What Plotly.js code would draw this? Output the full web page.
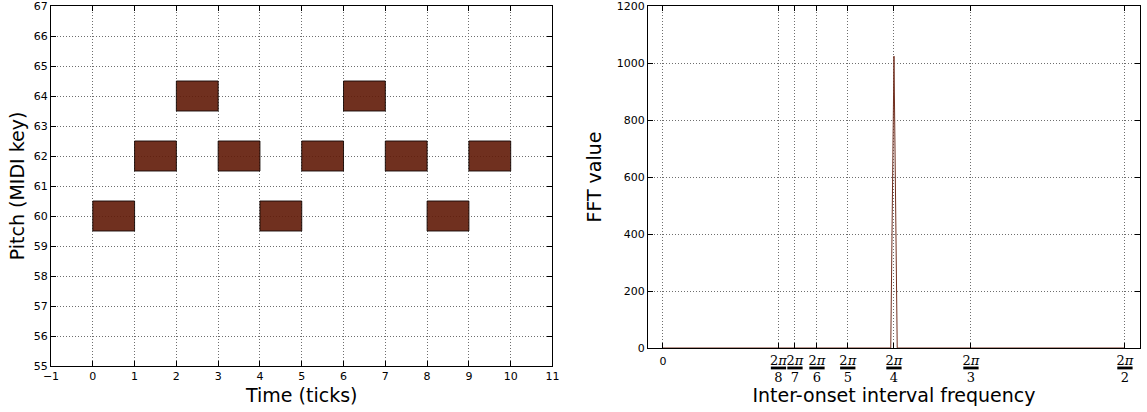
<!DOCTYPE html>
<html>
<head>
<meta charset="utf-8">
<script src="https://cdn.plot.ly/plotly-3.0.1.min.js"></script>
<style>
  html, body { margin: 0; padding: 0; background: #fff; }
  #chart { width: 1147px; height: 412px; }
</style>
</head>
<body>
<div id="chart"></div>
<script>
// Melody: onset and duration in ticks, pitch as MIDI key
const noteOnsets    = [0, 1, 2, 3, 4, 5, 6, 7, 8, 9];
const noteDurations = [1, 1, 1, 1, 1, 1, 1, 1, 1, 1];
const notePitches   = [60, 62, 64, 62, 60, 62, 64, 62, 60, 62];

// FFT of the inter-onset intervals
const fftFrequencies = [0, 1.549, 1.5708, 1.593, 3.1416];
const fftValues      = [0, 0, 1024, 0, 0];

// Frequency ticks are 2π / n
const periodDivisors = [8, 7, 6, 5, 4, 3, 2];

const timeTicks  = [-1, 0, 1, 2, 3, 4, 5, 6, 7, 8, 9, 10, 11];
const pitchTicks = [55, 56, 57, 58, 59, 60, 61, 62, 63, 64, 65, 66, 67];
const fftTicks   = [0, 200, 400, 600, 800, 1000, 1200];

const brown = '#712f1f';

// piano-roll rectangles, one closed path per note separated by gaps
const rollX = [], rollY = [];
noteOnsets.forEach((t, i) => {
  const t1 = t + noteDurations[i];
  const lo = notePitches[i] - 0.5, hi = notePitches[i] + 0.5;
  rollX.push(t, t1, t1, t, t, null);
  rollY.push(lo, lo, hi, hi, lo, null);
});

const rollTrace = {
  x: rollX, y: rollY, xaxis: 'x', yaxis: 'y',
  type: 'scatter', mode: 'lines', fill: 'toself',
  fillcolor: 'rgba(96,25,7,0.9)',
  line: { color: 'rgba(20,8,4,0.9)', width: 1 },
  hoverinfo: 'skip', showlegend: false
};

const fftTrace = {
  x: fftFrequencies, y: fftValues, xaxis: 'x2', yaxis: 'y2',
  type: 'scatter', mode: 'lines',
  line: { color: brown, width: 1 },
  showlegend: false, cliponaxis: true
};

const fracVals = periodDivisors.map(n => 2 * Math.PI / n);
const fftTickVals = [0].concat(fracVals);
const fftTickText = ['<span style="font-family:\'DejaVu Sans\';font-size:11px">0</span>']
  .concat(periodDivisors.map(n => '2<i>π</i><br>' + n));

const tickFont = { family: 'DejaVu Sans, sans-serif', size: 11, color: '#000' };
const titleFont = { family: 'DejaVu Sans, sans-serif', size: 19, color: '#000' };

const axisBase = {
  showline: true, linecolor: '#000', linewidth: 1, mirror: 'ticks',
  ticks: 'inside', ticklen: 5, tickwidth: 1, tickcolor: '#000',
  showgrid: true, gridcolor: '#6e6e6e', griddash: '1px,2px', gridwidth: 1,
  zeroline: false, tickfont: tickFont, automargin: false, fixedrange: true,
  ticklabeloverflow: 'allow'
};

// fraction bars under the 2π numerators
const fracBars = fracVals.map(v => ({
  type: 'line', xref: 'x2', yref: 'paper',
  x0: v - 0.052, x1: v + 0.052, y0: -0.0055, y1: -0.0055,
  line: { color: '#000', width: 2.8 }, layer: 'above'
}));

const layout = {
  width: 1147, height: 412,
  margin: { l: 51, r: 7, t: 6, b: 46, pad: 0 },
  paper_bgcolor: '#fff', plot_bgcolor: '#fff',
  showlegend: false,
  xaxis: Object.assign({}, axisBase, {
    domain: [0, 0.4605], range: [-1, 11],
    tickmode: 'array', tickvals: timeTicks, ticktext: timeTicks.map(v => v < 0 ? '\u22121' : String(v)),
    anchor: 'y',
    title: { text: 'Time (ticks)', font: titleFont, standoff: 6 }
  }),
  yaxis: Object.assign({}, axisBase, {
    domain: [0, 1], range: [55, 67],
    tickmode: 'array', tickvals: pitchTicks,
    anchor: 'x',
    title: { text: 'Pitch (MIDI key)', font: titleFont, standoff: 4 }
  }),
  xaxis2: Object.assign({}, axisBase, {
    domain: [0.5482, 1], range: [-0.102, 3.244],
    tickmode: 'array', tickvals: fftTickVals, ticktext: fftTickText, tickangle: 0,
    tickfont: { family: 'DejaVu Serif, serif', size: 13, color: '#000' },
    anchor: 'y2',
    title: { text: 'Inter-onset interval frequency', font: titleFont, standoff: 2 }
  }),
  yaxis2: Object.assign({}, axisBase, {
    domain: [0.05, 1], range: [0, 1200],
    tickmode: 'array', tickvals: fftTicks,
    anchor: 'x2',
    title: { text: 'FFT value', font: titleFont, standoff: 10 }
  }),
  shapes: fracBars
};

Plotly.newPlot('chart', [rollTrace, fftTrace], layout, { staticPlot: true, displayModeBar: false });
</script>
</body>
</html>
